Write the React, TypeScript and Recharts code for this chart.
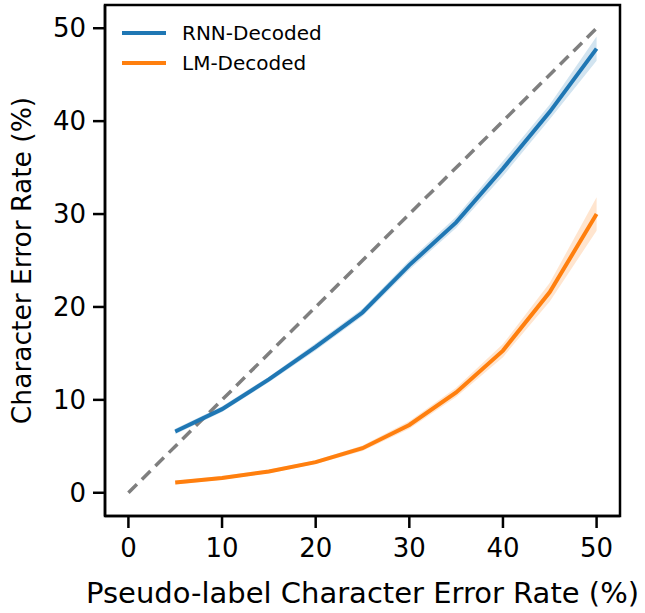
import React from "react";
import {
  ComposedChart,
  Line,
  Area,
  XAxis,
  YAxis,
  ReferenceLine,
  ReferenceArea,
} from "recharts";

// pseudo-label CER (%) on the x axis
const pseudoCer = [5, 10, 15, 20, 25, 30, 35, 40, 45, 50];

const rnnMean = [6.6, 9.0, 12.2, 15.7, 19.4, 24.5, 29.1, 34.9, 41.0, 47.8];
const rnnLow = [6.3, 8.7, 11.9, 15.3, 19.0, 24.0, 28.5, 34.1, 40.2, 46.5];
const rnnHigh = [6.9, 9.3, 12.5, 16.1, 19.8, 25.0, 29.7, 35.7, 41.8, 49.1];

const lmMean = [1.1, 1.6, 2.3, 3.3, 4.8, 7.3, 10.8, 15.3, 21.6, 30.0];
const lmLow = [0.9, 1.4, 2.1, 3.1, 4.5, 6.9, 10.3, 14.6, 20.6, 28.2];
const lmHigh = [1.3, 1.8, 2.5, 3.5, 5.1, 7.7, 11.3, 16.0, 22.6, 31.8];

const axisTicks = [0, 10, 20, 30, 40, 50];
const seriesNames = ["RNN-Decoded", "LM-Decoded"];

const BLUE = "#1f77b4";
const ORANGE = "#ff7f0e";
const FONT = "'DejaVu Sans', sans-serif";
const DOMAIN: [number, number] = [-2.5, 52.5];

const data = pseudoCer.map((x, i) => ({
  x,
  rnn: rnnMean[i],
  rnnBand: [rnnLow[i], rnnHigh[i]],
  lm: lmMean[i],
  lmBand: [lmLow[i], lmHigh[i]],
}));

const YLabel = (props: any) => {
  const vb = props.viewBox;
  const cy = vb.y + vb.height / 2;
  return (
    <text
      x={21}
      y={cy}
      transform={`rotate(-90, 21, ${cy})`}
      textAnchor="middle"
      dominantBaseline="central"
      fontFamily={FONT}
      fontSize={26.5}
      fill="#000"
    >
      Character Error Rate (%)
    </text>
  );
};

export default function App() {
  const colors = [BLUE, ORANGE];
  return (
    <div style={{ position: "absolute", left: 0, top: 0, width: 645, height: 613, background: "#fff" }}>
      <ComposedChart
        width={645}
        height={613}
        data={data}
        margin={{ top: 5, right: 25, left: 0, bottom: 0 }}
      >
        <XAxis
          dataKey="x"
          type="number"
          domain={DOMAIN}
          ticks={axisTicks}
          allowDataOverflow
          height={97}
          tickSize={12}
          tickMargin={11}
          axisLine={{ stroke: "#000", strokeWidth: 2.5 }}
          tickLine={{ stroke: "#000", strokeWidth: 2.5 }}
          tick={{ fill: "#000", fontSize: 26, fontFamily: FONT }}
          label={{
            value: "Pseudo-label Character Error Rate (%)",
            position: "insideBottom",
            offset: 10,
            fill: "#000",
            fontSize: 29,
            fontFamily: FONT,
          }}
        />
        <YAxis
          type="number"
          domain={DOMAIN}
          ticks={axisTicks}
          allowDataOverflow
          width={105}
          tickSize={12}
          tickMargin={7}
          axisLine={{ stroke: "#000", strokeWidth: 2.5 }}
          tickLine={{ stroke: "#000", strokeWidth: 2.5 }}
          tick={{ fill: "#000", fontSize: 26, fontFamily: FONT }}
          label={<YLabel />}
        />
        <ReferenceArea
          x1={DOMAIN[0]}
          x2={DOMAIN[1]}
          y1={DOMAIN[0]}
          y2={DOMAIN[1]}
          fill="none"
          fillOpacity={0}
          stroke="#000"
          strokeWidth={2.5}
          ifOverflow="visible"
        />
        <ReferenceLine
          segment={[
            { x: 0, y: 0 },
            { x: 50, y: 50 },
          ]}
          stroke="#7f7f7f"
          strokeWidth={3.5}
          strokeDasharray="12 7"
        />
        <Area
          dataKey="rnnBand"
          stroke="none"
          fill={BLUE}
          fillOpacity={0.2}
          legendType="none"
          isAnimationActive={false}
        />
        <Area
          dataKey="lmBand"
          stroke="none"
          fill={ORANGE}
          fillOpacity={0.2}
          legendType="none"
          isAnimationActive={false}
        />
        <Line
          dataKey="rnn"
          name={seriesNames[0]}
          stroke={BLUE}
          strokeWidth={4}
          dot={false}
          isAnimationActive={false}
        />
        <Line
          dataKey="lm"
          name={seriesNames[1]}
          stroke={ORANGE}
          strokeWidth={4}
          dot={false}
          isAnimationActive={false}
        />
      </ComposedChart>
      <div
        style={{
          position: "absolute",
          left: 122,
          top: 18,
          fontFamily: FONT,
          fontSize: 20,
          color: "#000",
        }}
      >
        {seriesNames.map((name, i) => (
          <div key={name} style={{ display: "flex", alignItems: "center", height: 30 }}>
            <svg width={44} height={6} style={{ marginRight: 16 }}>
              <line x1={0} y1={3} x2={44} y2={3} stroke={colors[i]} strokeWidth={4} />
            </svg>
            <span>{name}</span>
          </div>
        ))}
      </div>
    </div>
  );
}
